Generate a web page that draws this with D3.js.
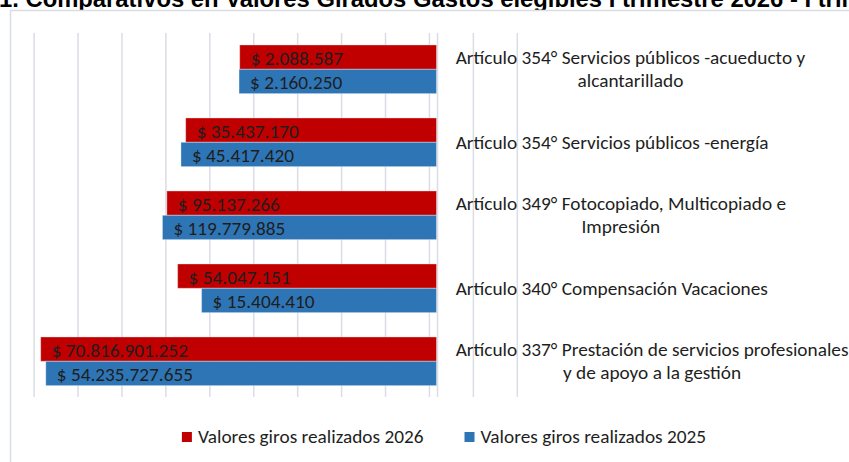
<!DOCTYPE html>
<html>
<head>
<meta charset="utf-8">
<script src="https://cdn.jsdelivr.net/npm/d3@7/dist/d3.min.js"></script>
<style>
  html, body { margin: 0; padding: 0; background: #ffffff; }
  svg { display: block; }
</style>
</head>
<body>
<svg id="chart" width="849" height="462"></svg>
<script>
// ---- Data ----
const titleText = "1. Comparativos en Valores Girados Gastos elegibles I trimestre 2026 - I trimestre 2025";
const categories = [
  "Artículo 354° Servicios públicos -acueducto y|alcantarillado",
  "Artículo 354° Servicios públicos -energía",
  "Artículo 349° Fotocopiado, Multicopiado e|Impresión",
  "Artículo 340° Compensación Vacaciones",
  "Artículo 337° Prestación de servicios profesionales|y de apoyo a la gestión"
];
const seriesNames = ["Valores giros realizados 2026", "Valores giros realizados 2025"];
const values2026 = [2088587, 35437170, 95137266, 54047151, 70816901252];
const values2025 = [2160250, 45417420, 119779885, 15404410, 54235727655];
const valueLabels2026 = ["$ 2.088.587", "$ 35.437.170", "$ 95.137.266", "$ 54.047.151", "$ 70.816.901.252"];
const valueLabels2025 = ["$ 2.160.250", "$ 45.417.420", "$ 119.779.885", "$ 15.404.410", "$ 54.235.727.655"];
const gridTicks = [1, 10, 100, 1e3, 1e4, 1e5, 1e6, 1e7, 1e8, 1e9, 1e10, 1e11];
const axisCrossValue = 69;

// ---- Styles ----
const colors = ["#C00000", "#2E75B6"];
const font = "Carlito, Calibri, Lato, 'Open Sans', sans-serif";
const textColor = "#1e1e1e";
const fs = 19.3;

const svg = d3.select("#chart");

// Title (cut off at top, as in reference)
svg.append("text")
  .attr("x", -1).attr("y", 7)
  .attr("font-family", "'Liberation Sans', Arial, sans-serif")
  .attr("font-weight", "bold")
  .attr("font-size", 23.8)
  .attr("fill", "#000")
  .text(titleText);

// Chart border
svg.append("rect")
  .attr("x", 10.5).attr("y", 10.5)
  .attr("width", 860).attr("height", 470)
  .attr("fill", "#fff")
  .attr("stroke", "#d9dde6").attr("stroke-width", 1.5);

// Scales
const x = d3.scaleLog().domain([1, 1e11]).range([517.3, 34.1]);
const y = d3.scaleBand().domain(categories).range([32.8, 397.8]).paddingInner(0).paddingOuter(0);
const barH = y.bandwidth() / 3;

// Gridlines
svg.append("g").selectAll("line").data(gridTicks).join("line")
  .attr("x1", d => x(d)).attr("x2", d => x(d))
  .attr("y1", 33).attr("y2", 397)
  .attr("stroke", "#dadde6").attr("stroke-width", 1.5);

// Axis line
svg.append("line")
  .attr("x1", x(axisCrossValue) + 1).attr("x2", x(axisCrossValue) + 1)
  .attr("y1", 33).attr("y2", 397)
  .attr("stroke", "#dadde6").attr("stroke-width", 1.5);

const x0 = x(axisCrossValue);
const series = [
  { vals: values2026, labels: valueLabels2026, off: 0 },
  { vals: values2025, labels: valueLabels2025, off: 1 }
];

series.forEach((s, si) => {
  const g = svg.append("g");
  g.selectAll("rect").data(categories).join("rect")
    .attr("x", (c, i) => x(s.vals[i]))
    .attr("width", (c, i) => x0 - x(s.vals[i]))
    .attr("y", c => y(c) + barH * (0.5 + s.off))
    .attr("height", barH)
    .attr("fill", colors[si])
    .attr("stroke", "rgba(255,255,255,0.35)")
    .attr("stroke-width", 1);
  g.selectAll("text").data(categories).join("text")
    .attr("x", (c, i) => x(s.vals[i]) + 11)
    .attr("y", c => y(c) + barH * (1 + s.off) + 7.5)
    .attr("font-family", font)
    .attr("font-size", fs)
    .attr("fill", textColor)
    .text((c, i) => s.labels[i]);
});

// Category labels (right side, block left-aligned, lines centered)
const labelX = 455.7;
const lineH = 23.5;
categories.forEach(c => {
  const lines = c.split("|");
  const cy = y(c) + y.bandwidth() / 2;
  const g = svg.append("g");
  const texts = lines.map((ln, li) => g.append("text")
    .attr("y", cy - (lines.length - 1) * lineH / 2 + li * lineH + 6.3)
    .attr("font-family", font)
    .attr("font-size", fs)
    .attr("fill", textColor)
    .attr("text-anchor", "middle")
    .text(ln));
  const maxW = d3.max(texts, t => t.node().getComputedTextLength());
  texts.forEach(t => t.attr("x", labelX + maxW / 2));
});

// Legend
const legend = svg.append("g");
const items = seriesNames.map((n, i) => {
  const gi = legend.append("g");
  gi.append("rect").attr("x", 0).attr("y", -11).attr("width", 10).attr("height", 10).attr("fill", colors[i]);
  const t = gi.append("text").attr("x", 16).attr("y", 0)
    .attr("font-family", font).attr("font-size", fs).attr("fill", textColor).text(n);
  return { gi, w: 16 + t.node().getComputedTextLength() };
});
const gap = 41;
const total = d3.sum(items, d => d.w) + gap * (items.length - 1);
let lx = 444 - total / 2;
items.forEach(it => { it.gi.attr("transform", `translate(${lx},443)`); lx += it.w + gap; });
</script>
</body>
</html>
